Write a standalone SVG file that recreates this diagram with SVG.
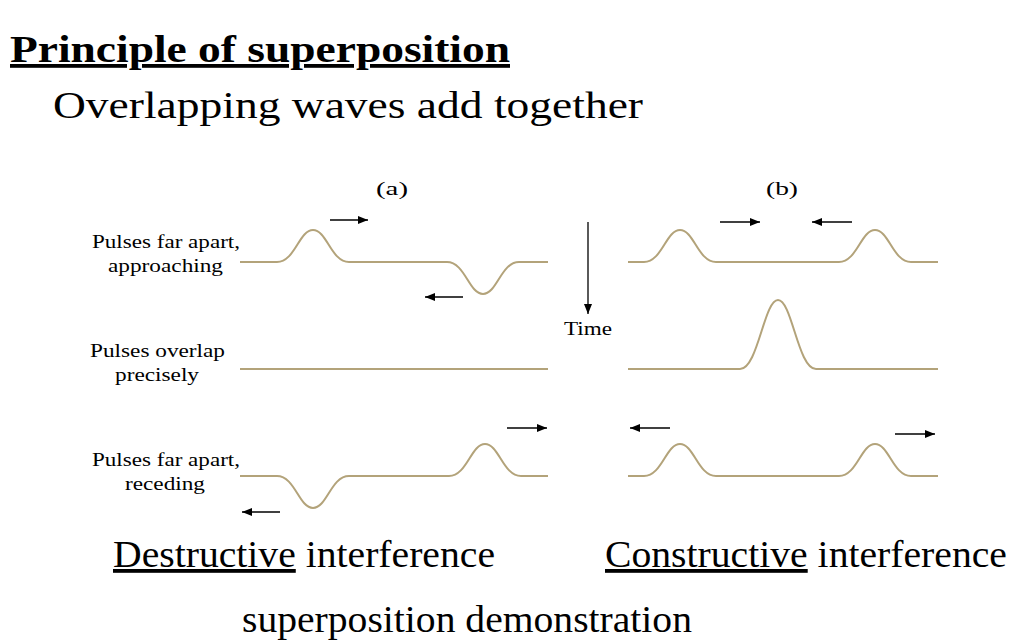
<svg xmlns="http://www.w3.org/2000/svg" width="1024" height="640" viewBox="0 0 1024 640">
<defs>
<marker id="ah" markerWidth="10" markerHeight="8" refX="10" refY="4" orient="auto" markerUnits="userSpaceOnUse"><path d="M0,0 L10,4 L0,8 Z" fill="#000"/></marker>
<style>
.w{fill:none;stroke:#b3a37a;stroke-width:2}
.a{stroke:#000;stroke-width:1.3;marker-end:url(#ah)}
.big{font-family:"Liberation Serif",serif;font-size:38px;fill:#000}
.sm{font-family:"Liberation Serif",serif;font-size:18px;fill:#000}
</style>
</defs>
<rect width="1024" height="640" fill="#fff"/>
<g id="title"><text x="10" y="62" class="big" font-weight="bold" text-decoration="underline" textLength="500" lengthAdjust="spacingAndGlyphs">Principle of superposition</text></g>
<g id="subtitle"><text x="53" y="118" class="big" textLength="590" lengthAdjust="spacingAndGlyphs">Overlapping waves add together</text></g>
<g id="labels">
<text x="376" y="195" class="sm" textLength="32" lengthAdjust="spacingAndGlyphs">(a)</text>
<text x="766" y="195" class="sm" textLength="32" lengthAdjust="spacingAndGlyphs">(b)</text>
<text x="92" y="248" class="sm" textLength="148" lengthAdjust="spacingAndGlyphs">Pulses far apart,</text>
<text x="108" y="272" class="sm" textLength="115" lengthAdjust="spacingAndGlyphs">approaching</text>
<text x="90" y="357" class="sm" textLength="135" lengthAdjust="spacingAndGlyphs">Pulses overlap</text>
<text x="115" y="381" class="sm" textLength="84" lengthAdjust="spacingAndGlyphs">precisely</text>
<text x="92" y="466" class="sm" textLength="148" lengthAdjust="spacingAndGlyphs">Pulses far apart,</text>
<text x="125" y="490" class="sm" textLength="80" lengthAdjust="spacingAndGlyphs">receding</text>
<text x="564" y="335" class="sm" textLength="48" lengthAdjust="spacingAndGlyphs">Time</text>
</g>
<g id="waves">
<path class="w" d="M240,262 L277,262 C295,262 299,230 313,230 C327,230 331,262 349,262 L447,262 C465,262 469,294 483,294 C497,294 501,262 519,262 L548,262"/>
<path class="w" d="M240,369 L548,369"/>
<path class="w" d="M240,476 L277,476 C295,476 299,508 313,508 C327,508 331,476 349,476 L449,476 C467,476 471,444 485,444 C499,444 503,476 521,476 L548,476"/>
<path class="w" d="M628,262 L644,262 C662,262 666,230 680,230 C694,230 698,262 716,262 L839,262 C857,262 861,230 875,230 C889,230 893,262 911,262 L938,262"/>
<path class="w" d="M628,369 L740,369 C758,369 764,300 778,300 C792,300 798,369 816,369 L938,369"/>
<path class="w" d="M628,476 L644,476 C662,476 666,444 680,444 C694,444 698,476 716,476 L839,476 C857,476 861,444 875,444 C889,444 893,476 911,476 L938,476"/>
</g>
<g id="connectors">
<line class="a" x1="330" y1="220" x2="368" y2="220"/>
<line class="a" x1="463" y1="297" x2="425" y2="297"/>
<line class="a" x1="507" y1="428" x2="547" y2="428"/>
<line class="a" x1="280" y1="512" x2="242" y2="512"/>
<line class="a" x1="720" y1="222" x2="760" y2="222"/>
<line class="a" x1="852" y1="222" x2="812" y2="222"/>
<line class="a" x1="670" y1="428" x2="630" y2="428"/>
<line class="a" x1="895" y1="434" x2="935" y2="434"/>
<line class="a" x1="588" y1="222" x2="588" y2="314"/>
</g>
<g id="bottom">
<text x="113" y="567" class="big" font-size="36" textLength="382" lengthAdjust="spacingAndGlyphs"><tspan text-decoration="underline">Destructive</tspan> interference</text>
<text x="605" y="567" class="big" font-size="36" textLength="402" lengthAdjust="spacingAndGlyphs"><tspan text-decoration="underline">Constructive</tspan> interference</text>
<text x="242" y="632" class="big" font-size="36" textLength="450" lengthAdjust="spacingAndGlyphs">superposition demonstration</text>
</g>
</svg>
